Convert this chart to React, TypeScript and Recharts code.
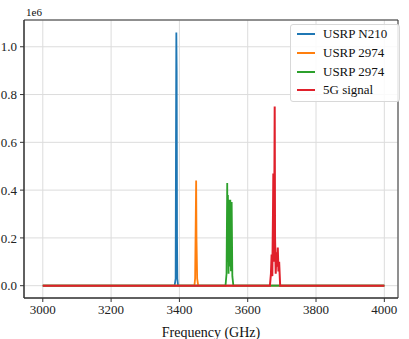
import { LineChart, Line, XAxis, YAxis, CartesianGrid, ReferenceArea } from 'recharts';

// values are in units of 1e6 (see the "1e6" offset label)
const xTicks = [3000, 3200, 3400, 3600, 3800, 4000];
const yTicks = [0, 0.2, 0.4, 0.6, 0.8, 1.0];

const n210Freq = [3000, 3386, 3389, 3390, 3391, 3392, 3393, 3394, 3396, 4000];
const n210Val = [0, 0, 0.03, 0.6, 1.06, 0.9, 0.2, 0.03, 0, 0];

const x2974aFreq = [3000, 3444, 3446, 3448, 3449, 3450, 3452, 3455, 4000];
const x2974aVal = [0, 0, 0.03, 0.3, 0.44, 0.2, 0.03, 0, 0];

const x2974bFreq = [3000, 3535, 3538, 3540, 3541, 3542, 3544, 3545, 3547, 3549, 3551, 3553, 3555, 3558, 4000];
const x2974bVal = [0, 0, 0.05, 0.43, 0.1, 0.38, 0.05, 0.36, 0.08, 0.36, 0.06, 0.35, 0.04, 0, 0];

const signalFreq = [3000, 3665, 3668, 3670, 3672, 3674, 3675, 3676, 3678, 3679, 3680, 3682, 3684, 3686, 3688, 3690, 3692, 3695, 4000];
const signalVal = [0, 0, 0.05, 0.13, 0.04, 0.3, 0.47, 0.1, 0.4, 0.75, 0.2, 0.05, 0.14, 0.08, 0.16, 0.06, 0.1, 0, 0];

const series = [
  { name: 'USRP N210', color: '#1f77b4', freq: n210Freq, val: n210Val },
  { name: 'USRP 2974', color: '#ff7f0e', freq: x2974aFreq, val: x2974aVal },
  { name: 'USRP 2974', color: '#2ca02c', freq: x2974bFreq, val: x2974bVal },
  { name: '5G signal', color: '#e0202b', freq: signalFreq, val: signalVal },
];

const font = '"Liberation Serif", "Times New Roman", serif';
const xDomain = [2945, 4040];
const yDomain = [-0.0515, 1.112];

function LegendBox() {
  return (
    <div
      style={{
        position: 'absolute',
        left: 290,
        top: 24,
        width: 102,
        border: '1px solid #d8d8d8',
        borderRadius: 3,
        background: 'rgba(255,255,255,0.85)',
        padding: '0 0 1px 6px',
        fontSize: 13,
        color: '#111',
      }}
    >
      {series.map((s, i) => (
        <div key={i} style={{ display: 'flex', alignItems: 'center', height: 18.7 }}>
          <div style={{ width: 18, height: 2, background: s.color, marginRight: 8 }} />
          <span>{s.name}</span>
        </div>
      ))}
    </div>
  );
}

export default function App() {
  return (
    <div style={{ position: 'absolute', left: 0, top: 0, width: 409, height: 339, background: '#fff', fontFamily: font }}>
      <style>{`.recharts-wrapper, .recharts-wrapper text { font-family: ${font} !important; }`}</style>
      <div style={{ position: 'absolute', left: 26, top: 6, fontSize: 11, color: '#111' }}>1e6</div>
      <LineChart width={409} height={339} margin={{ top: 20, right: 11, bottom: 0, left: 0 }}>
        <CartesianGrid stroke="#dcdcdc" strokeWidth={1} />
        <XAxis
          type="number"
          dataKey="f"
          domain={xDomain}
          ticks={xTicks}
          allowDataOverflow
          height={41}
          tickSize={4}
          tickMargin={3}
          stroke="#333"
          tick={{ fontSize: 13, fill: '#222' }}
          label={{ value: 'Frequency (GHz)', position: 'insideBottom', offset: 2, fontSize: 14, fill: '#111' }}
        />
        <YAxis
          type="number"
          dataKey="v"
          domain={yDomain}
          ticks={yTicks}
          allowDataOverflow
          width={24}
          tickSize={4}
          tickMargin={3}
          stroke="#333"
          tickFormatter={(v: number) => v.toFixed(1)}
          tick={{ fontSize: 13, fill: '#222' }}
        />
        {series.map((s, i) => (
          <Line
            key={i}
            name={s.name}
            data={s.freq.map((f, j) => ({ f, v: s.val[j] }))}
            dataKey="v"
            type="linear"
            stroke={s.color}
            strokeWidth={i === 3 ? 2 : 1.8}
            dot={false}
            isAnimationActive={false}
          />
        ))}
        <ReferenceArea x1={xDomain[0]} x2={xDomain[1]} y1={yDomain[0]} y2={yDomain[1]} fill="none" stroke="#333" strokeWidth={1} />
      </LineChart>
      <LegendBox />
    </div>
  );
}
